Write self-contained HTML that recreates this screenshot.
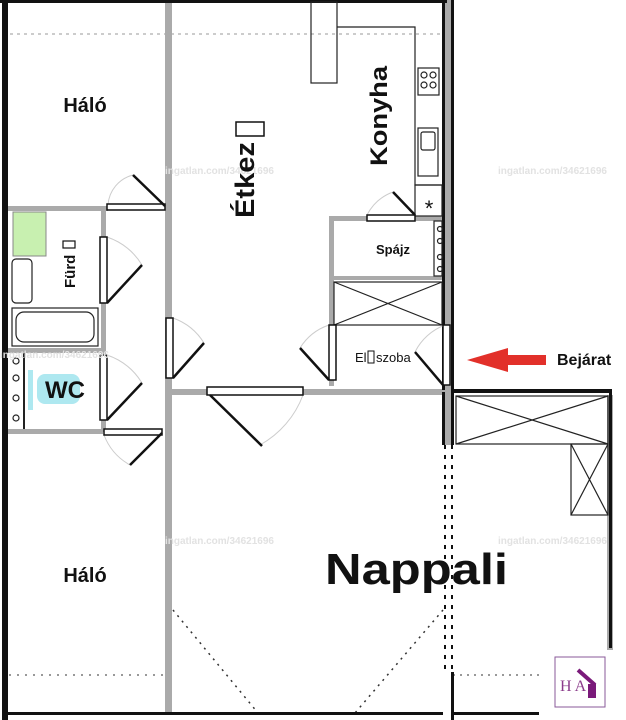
<!DOCTYPE html>
<html><head><meta charset="utf-8"><style>
html,body{margin:0;padding:0;background:#fff;width:626px;height:720px;overflow:hidden}
svg{display:block}
text{font-family:"Liberation Sans","DejaVu Sans",sans-serif;font-weight:bold;fill:#111}
text.wm{fill:#e2e2e2;font-weight:bold;font-size:10px}
</style></head><body>
<svg width="626" height="720" viewBox="0 0 626 720" xmlns="http://www.w3.org/2000/svg">
<rect width="626" height="720" fill="#fff"/>
<!-- dashed lines -->
<line x1="10" y1="34" x2="443" y2="34" stroke="#999" stroke-width="1" stroke-dasharray="3,4"/>
<line x1="9" y1="675" x2="163" y2="675" stroke="#333" stroke-width="1" stroke-dasharray="2,6"/>
<line x1="173" y1="610" x2="258" y2="713" stroke="#333" stroke-width="1.5" stroke-dasharray="2,5"/>
<line x1="443" y1="610" x2="355" y2="713" stroke="#333" stroke-width="1.5" stroke-dasharray="2,5"/>
<line x1="453" y1="675" x2="540" y2="675" stroke="#333" stroke-width="1" stroke-dasharray="2,5"/>
<line x1="445" y1="445" x2="445" y2="672" stroke="#111" stroke-width="2" stroke-dasharray="4,6"/>
<line x1="452" y1="445" x2="452" y2="672" stroke="#111" stroke-width="2" stroke-dasharray="4,6"/>

<!-- gray interior walls -->
<g fill="#aaa">
<rect x="165" y="0" width="7" height="715"/>
<rect x="8" y="206" width="100" height="5"/>
<rect x="101" y="206" width="5" height="226"/>
<rect x="8" y="348" width="95" height="5"/>
<rect x="8" y="429" width="95" height="5"/>
<rect x="172" y="389" width="273" height="6"/>
<rect x="329" y="216" width="116" height="5"/>
<rect x="329" y="216" width="5" height="170"/>
<rect x="334" y="276" width="110" height="4"/>
<rect x="445" y="0" width="6" height="445"/>
<rect x="607" y="395" width="6" height="255"/>
</g>
<!-- outer black walls -->
<g fill="#111">
<rect x="2" y="0" width="6" height="720"/>
<rect x="0" y="0" width="447" height="3"/>
<rect x="442" y="0" width="3" height="390"/>
<rect x="451" y="0" width="3" height="445"/>
<rect x="451" y="672" width="3" height="48"/>
<rect x="442" y="392" width="3" height="53"/>
<rect x="451" y="389" width="161" height="4"/>
<rect x="609" y="393" width="3" height="255"/>
<rect x="8" y="712" width="435" height="3"/>
<rect x="451" y="712" width="88" height="3"/>
</g>
<!-- closets with X -->
<g fill="none" stroke="#222" stroke-width="1.2">
<rect x="334" y="282" width="108" height="43"/>
<line x1="334" y1="282" x2="442" y2="325"/><line x1="442" y1="282" x2="334" y2="325"/>
<rect x="456" y="396" width="152" height="48"/>
<line x1="456" y1="396" x2="608" y2="444"/><line x1="608" y1="396" x2="456" y2="444"/>
<rect x="571" y="444" width="37" height="71"/>
<line x1="571" y1="444" x2="608" y2="515"/><line x1="608" y1="444" x2="571" y2="515"/>
<!-- kitchen -->
<rect x="311" y="2" width="26" height="81"/>
<polyline points="337,27 415,27 415,185 442,185"/>
<rect x="415" y="185" width="27" height="31"/>
<rect x="418" y="68" width="21" height="27"/>
<circle cx="424" cy="75" r="3"/><circle cx="433" cy="75" r="3"/><circle cx="424" cy="85" r="3"/><circle cx="433" cy="85" r="3"/>
<rect x="418" y="128" width="20" height="48"/>
<rect x="421" y="132" width="14" height="18" rx="2"/>
<!-- spajz shelf -->
<rect x="434" y="221" width="8" height="55"/>
<circle cx="440" cy="229" r="2.5"/><circle cx="440" cy="241" r="2.5"/><circle cx="440" cy="257" r="2.5"/><circle cx="440" cy="269" r="2.5"/>
<!-- bathroom -->
<rect x="12" y="259" width="20" height="44" rx="4"/>
<rect x="12" y="308" width="86" height="38"/>
<rect x="16" y="312" width="78" height="30" rx="8"/>
<!-- wc shelf -->
<circle cx="16" cy="361" r="3"/><circle cx="16" cy="378" r="3"/><circle cx="16" cy="398" r="3"/><circle cx="16" cy="418" r="3"/>
<line x1="24" y1="353" x2="24" y2="429" stroke-width="2"/>
</g>
<rect x="13" y="212" width="33" height="44" fill="#c8f0b0" stroke="#888" stroke-width="1"/>
<rect x="28" y="370" width="5" height="40" fill="#aee8f0"/>
<rect x="37" y="374" width="43" height="30" rx="8" fill="#aee8f0"/>
<text x="429" y="216" font-size="22" text-anchor="middle" style="font-weight:normal">*</text>

<!-- doors -->
<g fill="none" stroke="#ccc" stroke-width="1">
<path d="M108,205 A33,33 0 0 1 133,175"/>
<path d="M107,237 A66,66 0 0 1 142,265"/>
<path d="M107,355 A66,66 0 0 1 142,383"/>
<path d="M104,435 A58,58 0 0 0 130,465"/>
<path d="M173,318 A60,60 0 0 1 204,343"/>
<path d="M303,395 A95,95 0 0 1 260,445"/>
<path d="M329,325 A55,55 0 0 0 300,348"/>
<path d="M445,325 A55,55 0 0 0 415,352"/>
<path d="M367,215 A48,48 0 0 1 393,192"/>
</g>
<g fill="#fff" stroke="#111" stroke-width="1.5">
<rect x="107" y="204" width="58" height="6"/>
<rect x="100" y="237" width="7" height="66"/>
<rect x="100" y="355" width="7" height="65"/>
<rect x="104" y="429" width="58" height="6"/>
<rect x="166" y="318" width="7" height="60"/>
<rect x="207" y="387" width="96" height="8"/>
<rect x="329" y="325" width="7" height="55"/>
<rect x="367" y="215" width="48" height="6"/>
<rect x="443" y="325" width="7" height="60"/>
</g>
<g stroke="#111" stroke-width="2.5">
<line x1="165" y1="206" x2="133" y2="175"/>
<line x1="107" y1="303" x2="142" y2="265"/>
<line x1="107" y1="420" x2="142" y2="383"/>
<line x1="162" y1="433" x2="130" y2="465"/>
<line x1="173" y1="378" x2="204" y2="343"/>
<line x1="210" y1="395" x2="262" y2="446"/>
<line x1="329" y1="380" x2="300" y2="348"/>
<line x1="443" y1="385" x2="415" y2="352"/>
<line x1="415" y1="215" x2="393" y2="192"/>
</g>

<!-- watermarks -->
<text class="wm" x="165" y="174">ingatlan.com/34621696</text>
<text class="wm" x="498" y="174">ingatlan.com/34621696</text>
<text class="wm" x="0" y="358">ingatlan.com/34621696</text>
<text class="wm" x="165" y="544">ingatlan.com/34621696</text>
<text class="wm" x="498" y="544">ingatlan.com/34621696</text>

<!-- labels -->
<text x="85" y="112" font-size="20" text-anchor="middle">Háló</text>
<text x="85" y="582" font-size="20" text-anchor="middle">Háló</text>
<text transform="translate(254,218) rotate(-90)" font-size="27" textLength="76" lengthAdjust="spacingAndGlyphs">Étkez</text>
<rect x="236" y="122" width="28" height="14" fill="none" stroke="#111" stroke-width="1.5"/>
<text transform="translate(387,166) rotate(-90)" font-size="24" textLength="100" lengthAdjust="spacingAndGlyphs">Konyha</text>
<text transform="translate(75,288) rotate(-90)" font-size="15">Fürd</text>
<rect x="63" y="241" width="12" height="7" fill="none" stroke="#111" stroke-width="1.2"/>
<text x="393" y="254" font-size="13" text-anchor="middle">Spájz</text>
<text x="355" y="362" font-size="13" style="font-weight:normal">El</text>
<rect x="368" y="351" width="6" height="12" fill="none" stroke="#111" stroke-width="1"/>
<text x="376" y="362" font-size="13" style="font-weight:normal">szoba</text>
<text x="45" y="398" font-size="24">WC</text>
<text x="325" y="584" font-size="44" textLength="183" lengthAdjust="spacingAndGlyphs">Nappali</text>
<text x="557" y="365" font-size="16">Bejárat</text>
<polygon points="467,360 508,348 508,355 546,355 546,365 508,365 508,372" fill="#e2302a"/>

<!-- logo -->
<rect x="555" y="657" width="50" height="50" fill="#fff" stroke="#8a5a9a" stroke-width="1"/>
<text x="560" y="691" font-size="16" style="font-weight:normal;font-family:'Liberation Serif',serif;fill:#8a3a8a">H A</text>
<polyline points="578,670 595,685" stroke="#7a1a7a" stroke-width="4" fill="none"/>
<rect x="588" y="684" width="8" height="14" fill="#7a1a7a"/>
</svg>
</body></html>
